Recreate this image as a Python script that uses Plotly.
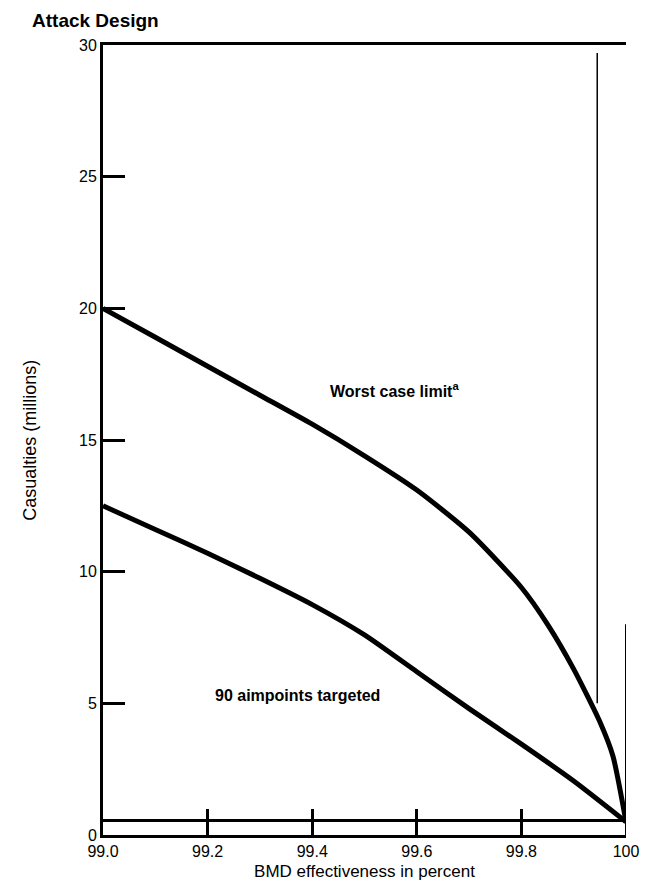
import plotly.graph_objects as go

# Data (BMD effectiveness %, casualties in millions)
worst_x = [99.0, 99.1, 99.2, 99.3, 99.4, 99.5, 99.6, 99.7, 99.8, 99.85, 99.9, 99.95, 99.975, 100.0]
worst_y = [20.0, 18.9, 17.8, 16.7, 15.6, 14.4, 13.1, 11.5, 9.4, 8.0, 6.3, 4.3, 3.0, 0.5]

aim_x = [99.0, 99.1, 99.2, 99.3, 99.4, 99.5, 99.6, 99.7, 99.8, 99.9, 100.0]
aim_y = [12.5, 11.6, 10.7, 9.75, 8.75, 7.6, 6.2, 4.8, 3.45, 2.05, 0.5]

x_tickvals = [99.0, 99.2, 99.4, 99.6, 99.8, 100.0]
x_ticktext = ["99.0", "99.2", "99.4", "99.6", "99.8", "100"]
y_tickvals = [0, 5, 10, 15, 20, 25, 30]

FONT = "Liberation Sans, Arial, Helvetica, sans-serif"

fig = go.Figure()
fig.add_trace(go.Scatter(x=worst_x, y=worst_y, mode="lines",
                         line=dict(color="black", width=5, shape="spline", smoothing=0.6),
                         name="Worst case limit", hoverinfo="x+y"))
fig.add_trace(go.Scatter(x=aim_x, y=aim_y, mode="lines",
                         line=dict(color="black", width=5, shape="spline", smoothing=0.6),
                         name="90 aimpoints targeted", hoverinfo="x+y"))

fig.update_layout(
    width=643, height=887,
    margin=dict(l=95, r=19, t=37, b=60),
    paper_bgcolor="white", plot_bgcolor="white",
    showlegend=False,
    font=dict(family=FONT, size=16, color="black"),
    xaxis=dict(range=[99.0, 100.0], tickvals=x_tickvals, ticktext=x_ticktext,
               showgrid=False, zeroline=False, showline=True, linewidth=3,
               linecolor="black", mirror=True, ticks="inside", ticklen=26,
               tickwidth=3, tickcolor="black", tickfont=dict(size=16),
               title=dict(text="BMD effectiveness in percent", font=dict(size=17), standoff=6)),
    yaxis=dict(range=[0, 30], tickvals=y_tickvals, showgrid=False, zeroline=False,
               showline=True, linewidth=3, linecolor="black", ticks="inside",
               ticklen=22, tickwidth=3, tickcolor="black", tickfont=dict(size=16),
               title=None),
)

annotations = [
    dict(text="Casualties (millions)", xref="paper", yref="paper", x=-0.163, y=0.5,
         textangle=-90, showarrow=False, font=dict(size=18)),
    dict(text="<b>Worst case limit<sup>a</sup></b>", xref="x", yref="y", x=99.43, y=16.9,
         xanchor="left", yanchor="middle", showarrow=False, font=dict(size=16)),
    dict(text="<b>90 aimpoints targeted</b>", xref="x", yref="y", x=99.21, y=5.3,
         xanchor="left", yanchor="middle", showarrow=False, font=dict(size=16)),
    dict(text="<b>Attack Design</b>", xref="paper", yref="paper", x=-0.14, y=1.047,
         xanchor="left", yanchor="top", showarrow=False, font=dict(size=19)),
]
fig.update_layout(annotations=annotations)

# Border fragments / double baseline seen in the reference
fig.add_shape(type="line", xref="x", yref="y", x0=99.0, x1=100.0, y0=0.55, y1=0.55,
              line=dict(color="black", width=3))
fig.add_shape(type="line", xref="x", yref="y", x0=100.0, x1=100.0, y0=0, y1=8.0,
              line=dict(color="black", width=2))
fig.add_shape(type="line", xref="x", yref="y", x0=99.945, x1=99.945, y0=5.0, y1=29.7,
              line=dict(color="black", width=1.5))

fig.write_html("out.html")
